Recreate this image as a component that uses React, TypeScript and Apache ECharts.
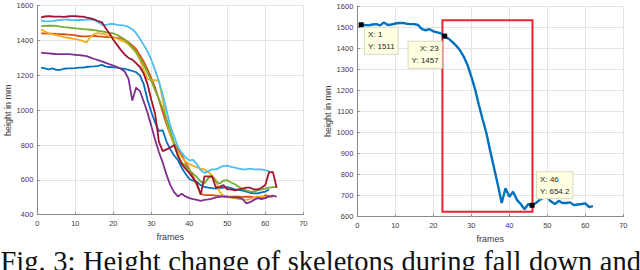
import React, { useEffect, useRef } from 'react';
import * as echarts from 'echarts';

// ---------- data (left panel: 7 skeleton heights, mm, frames 1..n) ----------
const blueHeights = [1245,1240,1235,1240,1232,1232,1238,1240,1240,1242,
  1245,1245,1248,1250,1252,1255,1260,1250,1248,1246,
  1244,1240,1238,1232,1225,1218,1200,1150,1060,990,
  930,880,885,820,775,740,714,670,635,605,
  595,588,570,560,555,552,550,552,555,558,
  552,545,542,538,532,526,522,522,528,533,545];
const orangeHeights = [1441,1441,1440,1440,1438,1437,1436,1434,1432,1430,
  1426,1424,1424,1425,1426,1424,1422,1420,1420,1418,
  1415,1412,1405,1390,1372,1350,1315,1280,1235,1185,
  1130,1060,990,920,860,810,775,745,700,660,
  617,570,522,512,512,512,510,508,505,503,
  503,503,503,502,503,503,500,498,495,512,505,502];
const yellowHeights = [1464,1452,1442,1436,1431,1426,1420,1416,1412,1408,
  1404,1397,1390,1420,1438,1442,1440,1436,1425,1416,
  1412,1400,1392,1378,1355,1330,1290,1230,1180,1172,
  1172,1168,1060,940,860,800,760,730,705,690,
  680,672,665,660,645,625,600,530,510,505,
  500,495,490,488,485,490,500,505,505,500,505,500];
const purpleHeights = [1330,1328,1326,1324,1322,1322,1322,1322,1320,1318,
  1316,1314,1310,1302,1294,1288,1280,1272,1264,1256,
  1248,1238,1222,1180,1055,1130,1110,1050,985,910,
  830,760,700,630,570,530,505,520,505,495,
  490,485,480,485,488,492,500,502,505,502,
  500,500,498,490,465,472,485,495,490,495,505,510,503];
const greenHeights = [1483,1484,1485,1485,1484,1480,1477,1475,1472,1470,
  1468,1466,1464,1462,1460,1456,1452,1448,1444,1441,
  1432,1420,1405,1385,1360,1335,1300,1260,1215,1170,
  1115,1065,1010,950,880,810,735,700,680,655,
  636,615,590,580,610,620,590,579,595,598,
  585,575,560,548,540,532,532,540,545,550,555,558,560];
const lightBlueHeights = [1515,1512,1510,1512,1515,1518,1520,1520,1518,1517,
  1518,1518,1520,1520,1518,1505,1492,1488,1495,1495,
  1490,1488,1485,1478,1465,1442,1410,1375,1338,1290,
  1230,1165,1090,1000,910,850,790,755,730,712,
  715,690,655,640,650,660,660,670,680,682,
  675,670,665,660,660,665,660,660,660,655,650];
const darkRedHeights = [1533,1538,1540,1538,1537,1537,1536,1538,1540,1540,
  1538,1537,1532,1527,1521,1512,1505,1470,1440,1405,
  1375,1345,1320,1300,1290,1270,1248,1210,1150,1060,
  980,820,765,775,785,800,740,690,665,640,
  610,580,515,620,620,620,555,560,570,545,
  545,540,545,550,555,555,545,545,555,570,645,645,555];

// ---------- data (right panel: one skeleton) ----------
const rightHeights = [1511,1510,1508,1512,1514,1508,1522,1510,1512,1517,
  1519,1520,1516,1514,1514,1510,1490,1485,1490,1480,
  1475,1470,1457,1445,1430,1412,1390,1360,1320,1265,
  1205,1130,1060,995,910,830,750,665,735,695,
  718,680,660,635,660,654.2,665,680,690,690,
  672,660,675,665,665,668,655,658,660,663,645,650];
const tipFrames = [1, 23, 46];
const tipHeights = [1511, 1457, 654.2];
const boxFrames = [22.4, 46.1];
const boxHeights = [1532, 623];

const captionWords = ['Fig.', '3:', 'Height', 'change', 'of', 'skeletons', 'during', 'fall', 'down', 'and'];

const matlabColors = ['#0072BD', '#D95319', '#EDB120', '#7E2F8E', '#77AC30', '#4DBEEE', '#A2142F'];
const leftSets = [blueHeights, orangeHeights, yellowHeights, purpleHeights, greenHeights, lightBlueHeights, darkRedHeights];

const toPoints = (vals: number[]) => vals.map((v, i) => [i + 1, v]);

const AX_FONT = '"Liberation Sans", Arial, Helvetica, sans-serif';
const SERIF = '"Liberation Serif", "Times New Roman", serif';

function xAxisFor(gridIndex: number) {
  return {
    gridIndex, type: 'value', min: 0, max: 70, interval: 10,
    name: 'frames', nameLocation: 'middle', nameGap: 17,
    nameTextStyle: { fontSize: 9, color: '#3a3a3a', fontFamily: AX_FONT },
    axisLine: { show: true, lineStyle: { color: '#8a8a8a', width: 1 } },
    axisTick: { show: true, inside: true, length: 2.5, lineStyle: { color: '#8a8a8a' } },
    axisLabel: { fontSize: 7.5, color: '#404040', margin: 5, fontFamily: AX_FONT, formatter: (v: number) => String(v) },
    splitLine: { show: true, lineStyle: { color: '#e3e3e3', width: 1 } },
  };
}
function yAxisFor(gridIndex: number, min: number, max: number, interval: number, nameGap: number) {
  return {
    gridIndex, type: 'value', min, max, interval,
    name: 'height in mm', nameLocation: 'middle', nameGap,
    nameTextStyle: { fontSize: 9, color: '#3a3a3a', fontFamily: AX_FONT },
    axisLine: { show: true, lineStyle: { color: '#8a8a8a', width: 1 } },
    axisTick: { show: true, inside: true, length: 2.5, lineStyle: { color: '#8a8a8a' } },
    axisLabel: { fontSize: 7.5, color: '#404040', margin: 4, fontFamily: AX_FONT, formatter: (v: number) => String(v) },
    splitLine: { show: true, lineStyle: { color: '#e3e3e3', width: 1 } },
  };
}

function captionElements() {
  const fontSize = 28.5;
  const ctx = document.createElement('canvas').getContext('2d')!;
  ctx.font = `${fontSize}px "Liberation Serif"`;
  const widths = captionWords.map((w) => ctx.measureText(w).width);
  const startX = 0.5;
  const lineEnd = 641;
  const total = widths.reduce((a, b) => a + b, 0);
  const gap = (lineEnd - startX - total) / (captionWords.length - 1);
  let x = startX;
  return captionWords.map((w, i) => {
    const el = {
      type: 'text', x, y: 261.6, silent: true,
      style: { text: w, fill: '#111', font: `${fontSize}px ${SERIF}`, verticalAlign: 'middle', align: 'left' },
    };
    x += widths[i] + gap;
    return el;
  });
}

const tipLabelBase = {
  show: true, fontSize: 8, color: '#262626', fontFamily: AX_FONT, lineHeight: 12,
  backgroundColor: '#ffffe1', borderColor: '#d9d9c0', borderWidth: 1, padding: [1, 3, 1, 3],
};
const tipLabelPos = [
  { position: [6.5, 5.5], align: 'left', verticalAlign: 'top' },
  { position: [-0.5, 8], align: 'right', verticalAlign: 'top' },
  { position: [7.5, -4.5], align: 'left', verticalAlign: 'bottom' },
];

export default function App() {
  const ref = useRef<HTMLDivElement>(null);
  useEffect(() => {
    const chart = echarts.init(ref.current!, null, { renderer: 'svg' });
    const leftSeries = leftSets.map((vals, i) => ({
      type: 'line', xAxisIndex: 0, yAxisIndex: 0, data: toPoints(vals),
      showSymbol: false, lineStyle: { color: matlabColors[i], width: 1.8 }, itemStyle: { color: matlabColors[i] },
      silent: true, z: 2 + i,
    }));
    const rightSeries = {
      type: 'line', xAxisIndex: 1, yAxisIndex: 1, data: toPoints(rightHeights),
      showSymbol: false, lineStyle: { color: '#0072BD', width: 2.4 }, itemStyle: { color: '#0072BD' },
      silent: true, z: 3,
      markArea: {
        silent: true,
        itemStyle: { color: 'rgba(0,0,0,0)', borderColor: '#e8232e', borderWidth: 2 },
        data: [[{ coord: [boxFrames[0], boxHeights[0]] }, { coord: [boxFrames[1], boxHeights[1]] }]],
      },
      markPoint: {
        silent: true, symbol: 'rect', symbolSize: 5, itemStyle: { color: '#000' },
        data: tipFrames.map((f, i) => ({
          coord: [f, tipHeights[i]],
          label: { ...tipLabelBase, ...tipLabelPos[i], formatter: `X: ${f}\nY: ${tipHeights[i]}` },
        })),
      },
    };
    chart.setOption({
      animation: false,
      backgroundColor: '#ffffff',
      grid: [
        { left: 37.3, right: 336.7, top: 5.7, bottom: 55.3 },
        { left: 357.3, right: 16.7, top: 6, bottom: 53.3 },
      ],
      xAxis: [xAxisFor(0), xAxisFor(1)],
      yAxis: [yAxisFor(0, 400, 1600, 200, 22), yAxisFor(1, 600, 1600, 100, 25)],
      series: [...leftSeries, rightSeries],
      graphic: captionElements(),
    });
    return () => chart.dispose();
  }, []);
  return <div ref={ref} style={{ position: 'absolute', left: 0, top: 0, width: 640, height: 270 }} />;
}
